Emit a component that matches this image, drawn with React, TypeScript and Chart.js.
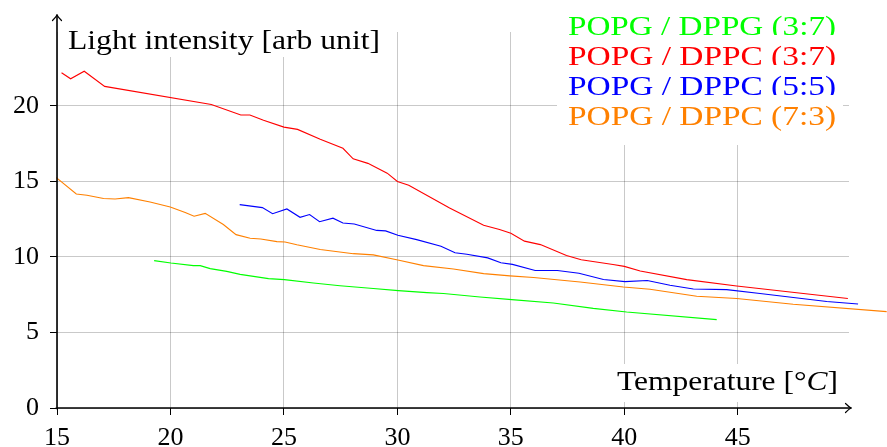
import React, { useEffect, useRef } from "react";
import { Chart, registerables } from "chart.js";

Chart.register(...registerables);

// ---- data ----
const greenTemp = [19.28, 20.02, 21.01, 21.31, 21.75, 22.48, 23.07, 24.32, 25.02, 26.3, 27.47, 28.94, 30.04, 31.3, 32.03, 33.64, 35.04, 36.87, 38.63, 40.1, 44.07];
const greenIntensity = [9.76, 9.6, 9.43, 9.43, 9.23, 9.05, 8.85, 8.57, 8.5, 8.28, 8.1, 7.91, 7.77, 7.64, 7.58, 7.35, 7.18, 6.95, 6.6, 6.36, 5.85];

const redTemp = [15.2, 15.6, 16.2, 17.1, 21.8, 23.1, 23.5, 24.1, 25.0, 25.6, 26.6, 27.6, 28.05, 28.7, 29.55, 30.0, 30.5, 32.3, 33.8, 34.5, 35.0, 35.6, 36.3, 37.45, 38.1, 39.5, 40.0, 40.7, 42.75, 44.95, 49.85];
const redIntensity = [22.2, 21.8, 22.3, 21.3, 20.1, 19.4, 19.4, 19.05, 18.6, 18.45, 17.8, 17.2, 16.5, 16.2, 15.55, 15.0, 14.75, 13.25, 12.1, 11.82, 11.57, 11.05, 10.82, 10.1, 9.82, 9.5, 9.38, 9.07, 8.5, 8.08, 7.25];

const blueTemp = [23.05, 24.05, 24.5, 25.13, 25.71, 26.13, 26.57, 27.16, 27.6, 28.1, 29.09, 29.48, 30.02, 30.85, 31.92, 32.54, 33.06, 33.98, 34.56, 35.07, 36.07, 37.05, 38.0, 39.08, 40.03, 41.01, 42.01, 43.04, 44.51, 45.98, 48.92, 50.3];
const blueIntensity = [13.47, 13.27, 12.87, 13.18, 12.63, 12.81, 12.34, 12.57, 12.25, 12.19, 11.76, 11.73, 11.44, 11.15, 10.71, 10.28, 10.18, 9.94, 9.62, 9.51, 9.11, 9.11, 8.92, 8.51, 8.37, 8.44, 8.13, 7.88, 7.84, 7.58, 7.05, 6.89];

const orangeTemp = [14.97, 15.85, 16.32, 17.05, 17.56, 18.15, 19.1, 19.99, 20.65, 21.04, 21.53, 22.33, 22.89, 23.51, 23.98, 24.69, 25.05, 25.57, 26.6, 28.06, 28.94, 30.02, 31.15, 32.47, 33.8, 34.96, 36.0, 38.05, 39.96, 41.13, 43.19, 44.95, 47.44, 51.56];
const orangeIntensity = [15.26, 14.17, 14.09, 13.87, 13.84, 13.93, 13.64, 13.31, 12.94, 12.7, 12.89, 12.15, 11.48, 11.24, 11.19, 11.02, 10.99, 10.81, 10.5, 10.22, 10.14, 9.8, 9.43, 9.21, 8.9, 8.75, 8.64, 8.34, 8.01, 7.86, 7.4, 7.25, 6.87, 6.38];

const seriesLabels = ["POPG / DPPG (3:7)", "POPG / DPPC (3:7)", "POPG / DPPC (5:5)", "POPG / DPPC (7:3)"];
const seriesColors = ["#00ff00", "#ff0000", "#0000ff", "#ff8000"];
const seriesTemps = [greenTemp, redTemp, blueTemp, orangeTemp];
const seriesValues = [greenIntensity, redIntensity, blueIntensity, orangeIntensity];

const xTitleParts = [
  { text: "Temperature [°", italic: false },
  { text: "C", italic: true },
  { text: "]", italic: false },
];
const yTitle = "Light intensity [arb unit]";

const xMin = 15;
const xMax = 49.9;
const yMin = 0;
const yMax = 24.9;
const tickStep = 5;

const SERIF = '"Liberation Serif", "Times New Roman", serif';

function drawStretched(
  ctx: CanvasRenderingContext2D,
  parts: { text: string; italic: boolean }[],
  x: number,
  baseline: number,
  targetWidth: number,
  size: number,
  color: string
) {
  const fonts = parts.map((p) => `${p.italic ? "italic " : ""}${size}px ${SERIF}`);
  const widths = parts.map((p, i) => {
    ctx.font = fonts[i];
    return ctx.measureText(p.text).width;
  });
  const total = widths.reduce((a, b) => a + b, 0);
  const sx = targetWidth / total;
  ctx.save();
  ctx.translate(x, baseline);
  ctx.scale(sx, 1);
  ctx.fillStyle = color;
  ctx.textAlign = "left";
  ctx.textBaseline = "alphabetic";
  let cx = 0;
  parts.forEach((p, i) => {
    ctx.font = fonts[i];
    ctx.fillText(p.text, cx, 0);
    cx += widths[i];
  });
  ctx.restore();
}

const overlayPlugin = {
  id: "overlay",
  afterDraw(chart: any) {
    const ctx: CanvasRenderingContext2D = chart.ctx;
    const a = chart.chartArea;
    const x0 = chart.scales.x.getPixelForValue(xMin);
    const y0 = chart.scales.y.getPixelForValue(yMin);

    ctx.save();
    // axis lines with arrows
    ctx.strokeStyle = "#000";
    ctx.lineWidth = 1.6;
    ctx.lineCap = "round";
    ctx.lineJoin = "round";
    const yTip = a.top - 17;
    const xTip = a.right + 2;
    ctx.beginPath();
    ctx.moveTo(x0, y0 + 0.8);
    ctx.lineTo(x0, yTip);
    ctx.moveTo(x0 - 0.8, y0);
    ctx.lineTo(xTip, y0);
    ctx.stroke();
    ctx.lineWidth = 1.2;
    ctx.beginPath();
    ctx.moveTo(x0 - 4.5, yTip + 5.5);
    ctx.quadraticCurveTo(x0 - 1, yTip + 2, x0, yTip);
    ctx.quadraticCurveTo(x0 + 1, yTip + 2, x0 + 4.5, yTip + 5.5);
    ctx.moveTo(xTip - 5.5, y0 - 4.5);
    ctx.quadraticCurveTo(xTip - 2, y0 - 1, xTip, y0);
    ctx.quadraticCurveTo(xTip - 2, y0 + 1, xTip - 5.5, y0 + 4.5);
    ctx.stroke();

    // y title
    ctx.fillStyle = "#fff";
    ctx.fillRect(62, 22, 326, 35);
    drawStretched(ctx, [{ text: yTitle, italic: false }], 68, 48.5, 312, 28, "#000");

    // x title
    ctx.fillStyle = "#fff";
    ctx.fillRect(612, 364, 232, 38);
    drawStretched(ctx, xTitleParts, 617, 390, 221, 28, "#000");

    // legend
    const lLeft = 557;
    const lRight = 843;
    const baselines = [34.5, 64.5, 94.5, 124.5];
    ctx.fillStyle = "#fff";
    ctx.fillRect(lLeft, 6, lRight - lLeft, 145 - 6);
    seriesLabels.forEach((label, i) => {
      if (i > 0) {
        ctx.fillStyle = "#fff";
        const top = baselines[i - 1] + 0.5;
        ctx.fillRect(lLeft, top, lRight - lLeft, baselines[i] + 8 - top);
      }
      drawStretched(ctx, [{ text: label, italic: false }], 568, baselines[i], 268, 28, seriesColors[i]);
    });
    ctx.restore();
  },
};

export default function App() {
  const canvasRef = useRef<HTMLCanvasElement | null>(null);

  useEffect(() => {
    document.body.style.margin = "0";
    const canvas = canvasRef.current;
    if (!canvas) return;

    const datasets = seriesLabels.map((label, i) => ({
      label,
      data: seriesTemps[i].map((t, j) => ({ x: t, y: seriesValues[i][j] })),
      borderColor: seriesColors[i],
      backgroundColor: seriesColors[i],
      borderWidth: 1.1,
      pointRadius: 0,
      tension: 0,
      fill: false,
      clip: false as any,
    }));

    const gridColor = "rgba(0,0,0,0.21)";

    const chart = new Chart(canvas, {
      type: "line",
      data: { datasets },
      options: {
        responsive: false,
        animation: false,
        devicePixelRatio: 1,
        layout: { padding: { top: 32, right: 38, left: 0, bottom: 0 } },
        plugins: {
          legend: { display: false },
          tooltip: { enabled: false },
        },
        scales: {
          x: {
            type: "linear",
            min: xMin,
            max: xMax,
            ticks: {
              stepSize: tickStep,
              includeBounds: false,
              color: "#000",
              font: { family: SERIF, size: 26 },
              padding: 8,
              maxRotation: 0,
            },
            grid: {
              color: gridColor,
              lineWidth: 1,
              tickLength: 7,
              tickColor: "#000",
              tickWidth: 1,
            },
            border: { display: false },
            afterFit: (s: any) => {
              s.height = 39;
            },
          },
          y: {
            type: "linear",
            min: yMin,
            max: yMax,
            ticks: {
              stepSize: tickStep,
              includeBounds: false,
              color: "#000",
              font: { family: SERIF, size: 26 },
              padding: 11,
            },
            grid: {
              color: gridColor,
              lineWidth: 1,
              tickLength: 7,
              tickColor: "#000",
              tickWidth: 1,
            },
            border: { display: false },
            afterFit: (s: any) => {
              s.width = 57;
            },
          },
        },
      },
      plugins: [overlayPlugin],
    });

    return () => {
      chart.destroy();
    };
  }, []);

  return (
    <div style={{ width: 887, height: 447, background: "#fff" }}>
      <canvas ref={canvasRef} width={887} height={447} style={{ display: "block" }} />
    </div>
  );
}
